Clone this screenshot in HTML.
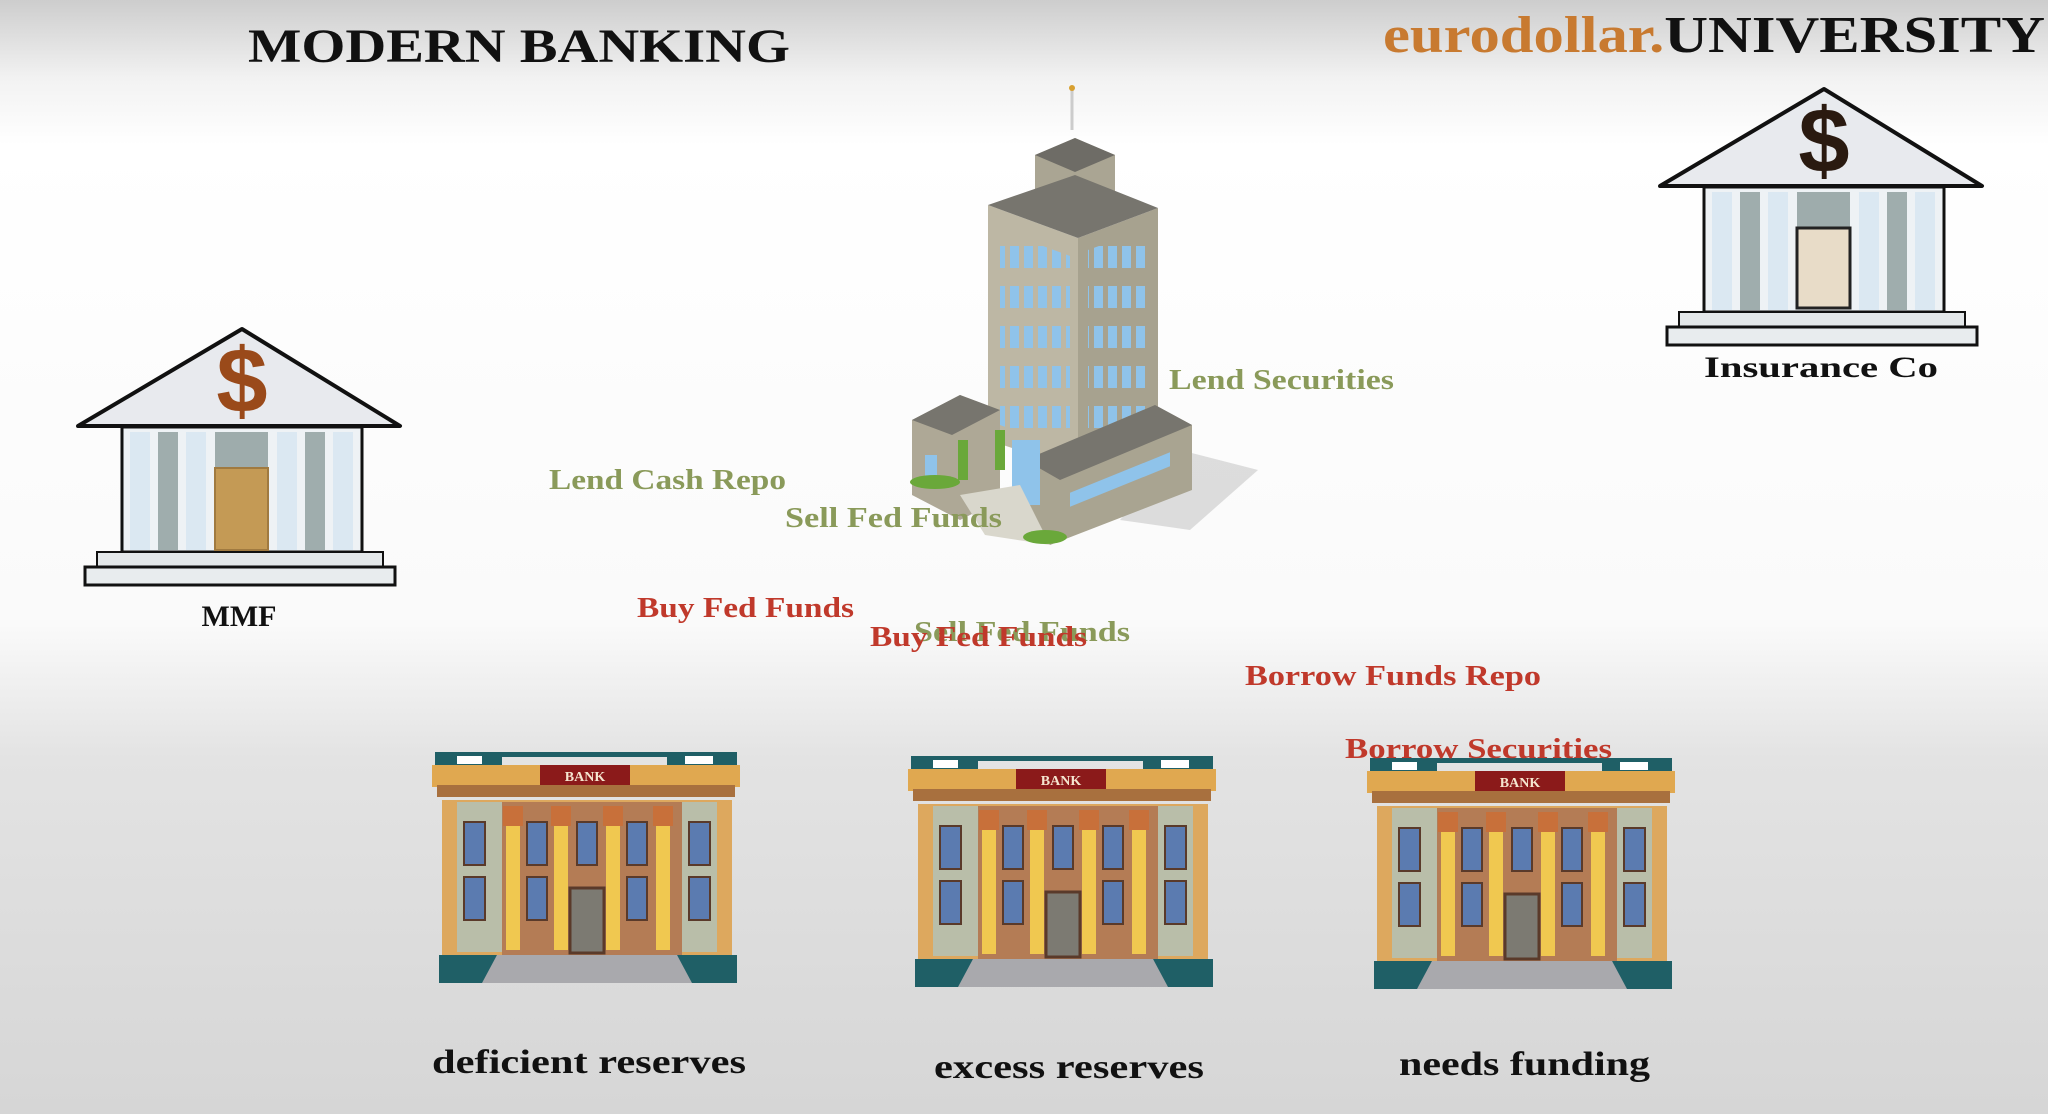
<!DOCTYPE html>
<html><head><meta charset="utf-8"><style>html,body{margin:0;padding:0;overflow:hidden}svg{display:block}</style></head>
<body>
<svg width="2048" height="1114" viewBox="0 0 2048 1114" xmlns="http://www.w3.org/2000/svg" font-family="Liberation Serif, serif" font-weight="bold">
<defs>
<linearGradient id="bg" x1="0" y1="0" x2="0" y2="1">
<stop offset="0" stop-color="#cdcdcd"/><stop offset="0.07" stop-color="#f2f2f2"/><stop offset="0.13" stop-color="#ffffff"/>
<stop offset="0.56" stop-color="#fafafa"/><stop offset="0.68" stop-color="#e3e3e3"/><stop offset="1" stop-color="#d6d6d6"/>
</linearGradient>
<pattern id="win" x="0" y="0" width="14" height="40" patternUnits="userSpaceOnUse">
<rect x="2" y="6" width="9" height="22" fill="#8fc3ea"/>
</pattern>
<g id="bank">
<rect x="8" y="12" width="302" height="5" fill="#1f5f66"/>
<rect x="8" y="12" width="67" height="13" fill="#1f5f66"/><rect x="240" y="12" width="70" height="13" fill="#1f5f66"/>
<rect x="30" y="16" width="25" height="8" fill="#fff"/><rect x="258" y="16" width="28" height="8" fill="#fff"/>
<rect x="5" y="25" width="308" height="22" fill="#e0a850"/>
<rect x="10" y="45" width="298" height="12" fill="#a8703e"/>
<rect x="113" y="25" width="90" height="20" fill="#8b1a1a"/>
<text x="158" y="41" font-size="14" fill="#f5e6d0" text-anchor="middle">BANK</text>
<rect x="15" y="60" width="290" height="155" fill="#dda85e"/>
<rect x="30" y="62" width="45" height="150" fill="#b9bea9"/><rect x="255" y="62" width="35" height="150" fill="#b9bea9"/>
<rect x="75" y="62" width="180" height="153" fill="#b47c55"/>
<g fill="#5b7bb0" stroke="#5a3a2a" stroke-width="2">
<rect x="37" y="82" width="21" height="43"/><rect x="37" y="137" width="21" height="43"/>
<rect x="100" y="82" width="20" height="43"/><rect x="100" y="137" width="20" height="43"/>
<rect x="150" y="82" width="20" height="43"/>
<rect x="200" y="82" width="20" height="43"/><rect x="200" y="137" width="20" height="43"/>
<rect x="262" y="82" width="21" height="43"/><rect x="262" y="137" width="21" height="43"/>
</g>
<rect x="143" y="148" width="34" height="65" fill="#7c7a72" stroke="#5a3a2a" stroke-width="3"/>
<g fill="#f0c850"><rect x="79" y="85" width="14" height="125"/><rect x="127" y="85" width="14" height="125"/><rect x="179" y="85" width="14" height="125"/><rect x="229" y="85" width="14" height="125"/></g>
<g fill="#c8703a"><rect x="76" y="66" width="20" height="20"/><rect x="124" y="66" width="20" height="20"/><rect x="176" y="66" width="20" height="20"/><rect x="226" y="66" width="20" height="20"/></g>
<polygon points="70,215 250,215 270,243 50,243" fill="#a9a9ad"/>
<polygon points="12,215 70,215 55,243 12,243" fill="#1f5f66"/><polygon points="250,215 310,215 310,243 265,243" fill="#1f5f66"/>
</g>
<g id="cbank">
<polygon points="242,329 400,426 78,426" fill="#e8eaee" stroke="#111" stroke-width="4" stroke-linejoin="round"/>
<rect x="122" y="427" width="240" height="125" fill="#eef2f5" stroke="#111" stroke-width="3"/>
<g fill="#dbe8f2"><rect x="130" y="432" width="20" height="118"/><rect x="186" y="432" width="20" height="118"/><rect x="277" y="432" width="20" height="118"/><rect x="333" y="432" width="20" height="118"/></g>
<g fill="#9fadad"><rect x="158" y="432" width="20" height="118"/><rect x="305" y="432" width="20" height="118"/></g>
<rect x="215" y="432" width="53" height="36" fill="#9eacac"/>
<rect x="97" y="552" width="286" height="15" fill="#e4e8ea" stroke="#111" stroke-width="2"/>
<rect x="85" y="567" width="310" height="18" fill="#e8ecee" stroke="#111" stroke-width="3"/>
</g>
</defs>
<rect width="2048" height="1114" fill="url(#bg)"/>
<text x="248" y="62" font-size="48" fill="#111" textLength="542" lengthAdjust="spacingAndGlyphs">MODERN BANKING</text>
<text x="1383" y="52" font-size="52" textLength="662" lengthAdjust="spacingAndGlyphs"><tspan fill="#c87a30">eurodollar.</tspan><tspan fill="#111">UNIVERSITY</tspan></text>

<!-- tower -->
<polygon points="1180,450 1258,470 1190,530 1120,520" fill="#d4d4d4" opacity="0.8"/>
<line x1="1072" y1="88" x2="1072" y2="130" stroke="#ccc" stroke-width="3"/><circle cx="1072" cy="88" r="3" fill="#d8a030"/>
<polygon points="1035,155 1075,138 1115,155 1115,205 1075,222 1035,205" fill="#aaa593"/>
<polygon points="1035,155 1075,138 1115,155 1075,172" fill="#6e6c66"/>
<polygon points="988,205 1078,238 1078,470 988,440" fill="#bdb7a4"/>
<polygon points="1078,238 1158,208 1158,430 1078,470" fill="#a7a28f"/>
<polygon points="988,205 1075,175 1158,208 1078,238" fill="#77756e"/>
<polygon points="1000,230 1070,256 1070,450 1000,425" fill="url(#win)"/>
<polygon points="1088,250 1148,228 1148,420 1088,445" fill="url(#win)"/>
<polygon points="912,420 960,395 1000,410 1000,500 960,520 912,495" fill="#aea896"/>
<polygon points="912,420 960,395 1000,410 952,435" fill="#77756e"/>
<polygon points="1025,460 1155,405 1192,425 1192,490 1050,545 1025,530" fill="#a9a491"/>
<polygon points="1025,460 1155,405 1192,425 1060,480" fill="#77756e"/>
<g fill="#8fc3ea"><rect x="1070" y="495" width="100" height="14" transform="skewY(-22) translate(0,430)"/><rect x="925" y="455" width="12" height="30"/><rect x="1012" y="440" width="28" height="65"/></g>
<polygon points="960,495 1020,485 1050,545 985,535" fill="#d9d7cc"/>
<g fill="#6aa83a"><ellipse cx="935" cy="482" rx="25" ry="7"/><ellipse cx="1045" cy="537" rx="22" ry="7"/><rect x="958" y="440" width="10" height="40"/><rect x="995" y="430" width="10" height="40"/></g>

<use href="#cbank"/>
<g transform="translate(1582,-240)"><use href="#cbank"/></g>
<rect x="1797" y="228" width="53" height="80" fill="#e8dcc8" stroke="#222" stroke-width="3"/>
<rect x="215" y="468" width="53" height="82" fill="#c49a55" stroke="#a07a40" stroke-width="2"/>
<text x="242" y="412" font-size="92" fill="#9a4a1a" text-anchor="middle" font-family="Liberation Sans, sans-serif" font-weight="bold">$</text>
<text x="1824" y="172" font-size="92" fill="#2a1a10" text-anchor="middle" font-family="Liberation Sans, sans-serif" font-weight="bold">$</text>
<text x="239" y="626" font-size="30" fill="#111" text-anchor="middle">MMF</text>
<text x="1704" y="377" font-size="30" fill="#111" textLength="234" lengthAdjust="spacingAndGlyphs">Insurance Co</text>

<g transform="translate(427,740)"><use href="#bank"/></g>
<g transform="translate(903,744)"><use href="#bank"/></g>
<g transform="translate(1362,746)"><use href="#bank"/></g>

<g font-size="29" fill="#8a9a5a">
<text x="1169" y="389" textLength="225" lengthAdjust="spacingAndGlyphs">Lend Securities</text>
<text x="549" y="489" textLength="237" lengthAdjust="spacingAndGlyphs">Lend Cash Repo</text>
<text x="785" y="527" textLength="217" lengthAdjust="spacingAndGlyphs">Sell Fed Funds</text>
<text x="914" y="641" textLength="216" lengthAdjust="spacingAndGlyphs">Sell Fed Funds</text>
</g>
<g font-size="29" fill="#c0392b">
<text x="637" y="617" textLength="217" lengthAdjust="spacingAndGlyphs">Buy Fed Funds</text>
<text x="870" y="646" textLength="217" lengthAdjust="spacingAndGlyphs">Buy Fed Funds</text>
<text x="1245" y="685" textLength="296" lengthAdjust="spacingAndGlyphs">Borrow Funds Repo</text>
<text x="1345" y="758" textLength="267" lengthAdjust="spacingAndGlyphs">Borrow Securities</text>
</g>
<g font-size="34" fill="#111">
<text x="432" y="1073" textLength="314" lengthAdjust="spacingAndGlyphs">deficient reserves</text>
<text x="934" y="1078" textLength="270" lengthAdjust="spacingAndGlyphs">excess reserves</text>
<text x="1399" y="1075" textLength="251" lengthAdjust="spacingAndGlyphs">needs funding</text>
</g>
</svg>
</body></html>
